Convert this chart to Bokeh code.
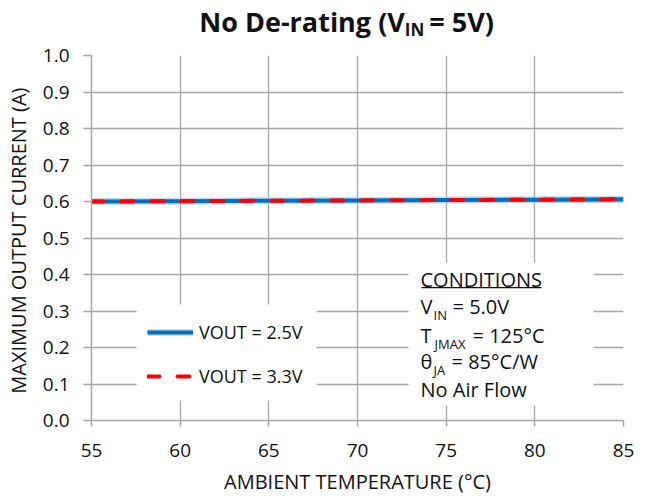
from bokeh.plotting import figure
from bokeh.layouts import column
from bokeh.models import (Range1d, FixedTicker, Legend, LegendItem, Label,
                          BoxAnnotation, NumeralTickFormatter)
from bokeh.embed import file_html
from bokeh.resources import INLINE

# ---- data -------------------------------------------------------------
temps = [55, 60, 65, 70, 75, 80, 85]
iout_vout25 = [0.600, 0.601, 0.602, 0.603, 0.604, 0.605, 0.606]
iout_vout33 = [0.600, 0.601, 0.602, 0.603, 0.604, 0.605, 0.606]
x_ticks = [55, 60, 65, 70, 75, 80, 85]
y_ticks = [0.0, 0.1, 0.2, 0.3, 0.4, 0.5, 0.6, 0.7, 0.8, 0.9, 1.0]
series_labels = ["VOUT = 2.5V", "VOUT = 3.3V"]
title_parts = ["No De-rating (V", "IN", "= 5V)"]
conditions = ["CONDITIONS", "V", "IN", "= 5.0V", "T", "JMAX", "= 125°C",
              "θ", "JA", "= 85°C/W", "No Air Flow"]

FONT = "Open Sans"
GRID = "#A6A6A6"
INK = "#111111"
TITLE_H = 40

# ---- title strip --------------------------------------------------------
t = figure(width=652, height=TITLE_H, x_range=Range1d(0, 652), y_range=Range1d(0, TITLE_H),
           output_backend="svg", toolbar_location=None,
           min_border_left=0, min_border_right=0, min_border_top=0, min_border_bottom=0)
t.axis.visible = False
t.grid.visible = False
t.outline_line_color = None


def ttxt(text, xp, yp, size, align="left"):
    t.add_layout(Label(x=xp, y=TITLE_H - yp, text=text, text_font=FONT,
                       text_font_size=size, text_font_style="bold",
                       text_align=align, text_baseline="middle", text_color=INK))


ttxt(title_parts[0], 384, 21, "27px", align="right")
ttxt(title_parts[1], 384, 29, "17px")
ttxt(title_parts[2], 414, 21, "27px")

# ---- main chart ---------------------------------------------------------
p = figure(width=652, height=502 - TITLE_H, x_range=Range1d(55, 85), y_range=Range1d(0, 1),
           output_backend="svg", toolbar_location=None,
           min_border_left=91, min_border_right=29, min_border_top=55 - TITLE_H,
           min_border_bottom=82)
p.outline_line_color = None
p.background_fill_color = "white"
p.border_fill_color = "white"

p.xaxis.ticker = FixedTicker(ticks=x_ticks)
p.yaxis.ticker = FixedTicker(ticks=y_ticks)
p.yaxis.formatter = NumeralTickFormatter(format="0.0")
for ax in (p.xaxis, p.yaxis):
    ax.axis_line_color = GRID
    ax.axis_line_width = 1.5
    ax.major_tick_line_color = GRID
    ax.major_tick_line_width = 1.5
    ax.major_tick_in = 0
    ax.minor_tick_line_color = None
    ax.major_label_text_font = FONT
    ax.major_label_text_font_size = "19px"
    ax.major_label_text_color = INK
    ax.axis_label_text_font = FONT
    ax.axis_label_text_font_size = "20px"
    ax.axis_label_text_font_style = "normal"
    ax.axis_label_text_color = INK
p.yaxis.major_tick_out = 8
p.yaxis.major_label_standoff = 14
p.yaxis.axis_label_standoff = 8
p.xaxis.major_tick_out = 6
p.xaxis.major_label_standoff = 17
p.xaxis.axis_label_standoff = 8
p.xaxis.axis_label = "AMBIENT TEMPERATURE (°C)"
p.yaxis.axis_label = "MAXIMUM OUTPUT  CURRENT (A)"

p.xgrid.grid_line_color = GRID
p.ygrid.grid_line_color = GRID
p.xgrid.grid_line_width = 1.3
p.ygrid.grid_line_width = 1.3

# ---- series -----------------------------------------------------------
halo = p.line(temps, iout_vout25, line_width=7, line_color="#9DC3E6", line_alpha=0.6)
blue = p.line(temps, iout_vout25, line_width=4, line_color="#0070C0")
red = p.line(temps, iout_vout33, line_width=4, line_color="#FF0000",
             line_dash="12 18", line_cap="round")


# ---- helpers: page pixel position -> data units -------------------------
def dx(xp):
    return 55 + (xp - 91) * 30.0 / 532.0


def dy(yp):
    return (420 - yp) / 365.0


# white backing boxes (legend area and conditions area)
p.add_layout(BoxAnnotation(left=dx(136), right=dx(316), top=dy(304), bottom=dy(400),
                           fill_color="white", fill_alpha=1.0, line_color=None))
p.add_layout(BoxAnnotation(left=dx(408), right=dx(593), top=dy(262), bottom=dy(405),
                           fill_color="white", fill_alpha=1.0, line_color=None))

legend = Legend(items=[LegendItem(label=series_labels[0], renderers=[halo, blue]),
                       LegendItem(label=series_labels[1], renderers=[red])],
                location=(56, 32), border_line_color=None,
                background_fill_color="white", background_fill_alpha=1.0,
                glyph_width=46, glyph_height=20, label_height=20, spacing=20,
                padding=0, label_standoff=6, margin=0,
                label_text_font=FONT, label_text_font_size="18px",
                label_text_color=INK)
p.add_layout(legend)


def txt(text, xp, yp, size="20px"):
    p.add_layout(Label(x=dx(xp), y=dy(yp), text=text, text_font=FONT,
                       text_font_size=size, text_align="left",
                       text_baseline="middle", text_color=INK))


txt(conditions[0], 420, 279)
p.add_layout(BoxAnnotation(left=dx(421), right=dx(541), top=dy(286.5), bottom=dy(287.8),
                           fill_color=INK, fill_alpha=1.0, line_color=None))
txt(conditions[1], 420, 306)
txt(conditions[2], 433, 314, size="13px")
txt(conditions[3], 452, 306)
txt(conditions[4], 420, 335)
txt(conditions[5], 434, 343, size="13px")
txt(conditions[6], 472, 335)
txt(conditions[7], 420, 361)
txt(conditions[8], 433, 369, size="13px")
txt(conditions[9], 451, 361)
txt(conditions[10], 420, 389)

layout = column(t, p, spacing=0)
open("out.html", "w").write(file_html(layout, INLINE))
